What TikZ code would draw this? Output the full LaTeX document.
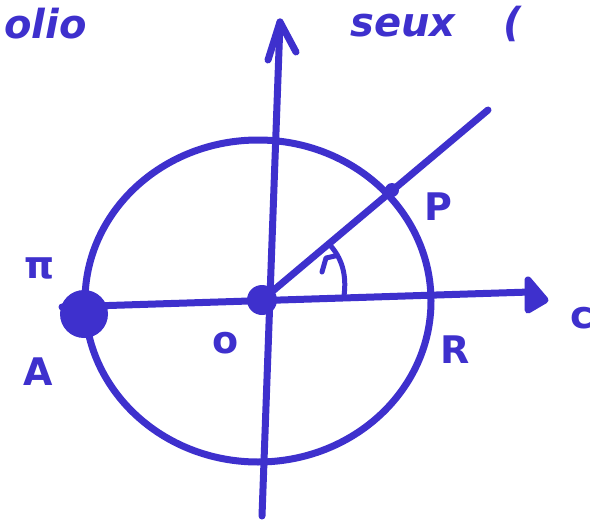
\documentclass[tikz,border=0pt]{standalone}
\usepackage{fontspec}
\setmainfont{DejaVu Sans}
\usetikzlibrary{arrows.meta}
\definecolor{ink}{RGB}{62,48,205}
\tikzset{
  pen/.style={draw=ink, line width=7pt, line cap=round, line join=round},
  lbl/.style={text=ink, font=\fontsize{38}{38}\selectfont\bfseries, inner sep=0pt},
  hand/.style={text=ink, font=\fontsize{40}{40}\selectfont\bfseries\itshape, inner sep=0pt, anchor=west}
}
\begin{document}
\begin{tikzpicture}[x=1pt,y=-1pt]
\useasboundingbox (0,0) rectangle (610,524);
\fill[white] (0,0) rectangle (610,524);
% coordinates
\coordinate (O) at (262,300);
\coordinate (ytop) at (280,22);
\coordinate (ybot) at (262,516);
\coordinate (xl) at (62,307);
\coordinate (xr) at (530,292);
\coordinate (rayend) at (488,110);
\coordinate (Pp) at (392,190);
\coordinate (Apt) at (84,314);
% circle
\draw[pen] (258,301) ellipse [x radius=173, y radius=161];
% axes
\draw[pen] (ybot) -- (ytop);
\draw[pen] (268,60) -- (ytop) -- (296,52);
\draw[pen] (xl) -- (xr);
\draw[pen, fill=ink] (528,280) -- (545,300) -- (528,310) -- cycle;
% ray
\draw[pen] (O) -- (rayend);
% angle arc
\draw[pen, line width=5pt] (330,245) .. controls (345,262) and (346,280) .. (344,296);
\draw[pen, line width=5pt] (322,272) -- (326,258) -- (335,256);
% dots
\fill[ink] (O) circle (15);
\fill[ink] (Apt) circle (24);
\fill[ink] (Pp) circle (7);
% labels
\node[lbl] (pi) at (40,268) {π};
\node[lbl] (lA) at (38,372) {A};
\node[lbl] (lO) at (226,343) {o};
\node[lbl] (lP) at (438,207) {P};
\node[lbl] (lR) at (455,350) {R};
\node[lbl] (lx) at (582,318) {c};
\node[hand] (t1) at (4,24) {olio};
\node[hand] (t2) at (350,24) {seux\hspace{1.2em}(};
\end{tikzpicture}
\end{document}
